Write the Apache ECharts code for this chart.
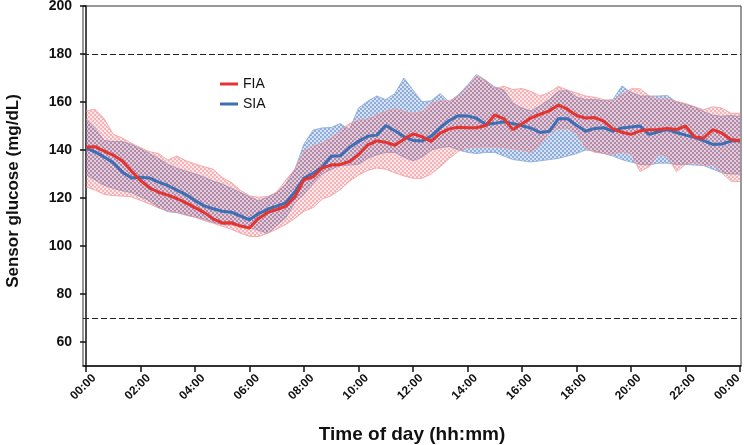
<!DOCTYPE html>
<html>
<head>
<meta charset="utf-8">
<script src="https://cdn.jsdelivr.net/npm/echarts@6/dist/echarts.min.js"></script>
<style>
html,body{margin:0;padding:0;background:#fff;}
#chart{width:744px;height:445px;}
</style>
</head>
<body>
<div id="chart"></div>
<script>
// Time of day in minutes (20-minute steps)
const minutes = [0,20,40,60,80,100,120,140,160,180,200,220,240,260,280,300,320,340,360,380,400,420,440,460,480,500,520,540,560,580,600,620,640,660,680,700,720,740,760,780,800,820,840,860,880,900,920,940,960,980,1000,1020,1040,1060,1080,1100,1120,1140,1160,1180,1200,1220,1240,1260,1280,1300,1320,1340,1360,1380,1400,1420,1440];
const xTickValues = [0,120,240,360,480,600,720,840,960,1080,1200,1320,1440];
const xTickLabels = ["00:00","02:00","04:00","06:00","08:00","10:00","12:00","14:00","16:00","18:00","20:00","22:00","00:00"];
const yTickValues = [60,80,100,120,140,160,180,200];
const refLines = [70,180];

const fiaMedian = [141.3,141.4,139.5,137.9,135.4,131.2,127.3,124.2,122.4,121.2,119.8,118,116,114,111.3,109.6,109.7,108.3,107.5,111.5,114,115.2,116.6,120.5,127.6,128.8,132.5,133.7,134,135.2,138,142,143.8,143.2,142,144.5,146.7,145.5,143.6,147,148.8,149.5,149.3,149.3,150.2,154.6,153,148.5,150.9,153.4,154.9,156.3,158.75,157,154.4,153.3,153.5,152,148.8,147.4,146.5,148,148.4,148.5,149,148.5,150,145.4,145,148.5,147,144.4,143.9];
const fiaUpper = [156.3,157,153,146.5,145,142.8,141,139.3,138.5,135.8,137.5,135.5,134.2,133,132,128.5,126.5,123.2,120.9,120.3,120.6,122.5,127.5,132,139.4,141.8,142.8,145,148,151,152.5,152.7,154.6,156,157.2,156,155.3,156,159.5,160.5,160.5,162.4,166.2,170.8,169,165.5,166.6,165.2,165.6,164.4,162.5,164,166.5,165,163.8,162.5,162,161,160.5,163,165.5,165.5,162.5,161,161.3,160.3,159.4,158,156.8,158,157.5,155.3,155.3];
const fiaLower = [124.7,123.3,121.5,121,120.8,120.5,119,117.5,115.8,114.8,114,112.8,112,110.6,109.5,108.2,107,105.3,104,103.9,105.3,107,109,111.5,114.5,116,119.5,121,123.5,127,129.5,131.5,132.5,132,130.5,129.2,128.2,128.2,130,133,136.5,139.5,141,141.3,141.3,141.3,141,140.5,140,139,142.5,147,149,149,147,141,139,138.6,138.3,139.3,138.5,131,133,138.3,137.5,131,134,135,133.5,134,130.5,127,126.8];

const siaMedian = [140.8,139.2,137.1,134.7,130.8,128.3,128.6,128.3,126.6,125.2,123.3,121.4,119,116.7,115.5,114.5,114.1,112.5,110.9,113.5,115.3,116.6,118,122.6,128.3,130.3,132.8,137.4,137.6,141,143.6,145.7,146.2,150.2,148,145.6,144,143.8,145.8,149.3,152.3,154.3,154.2,153.2,150.6,151.1,151.8,151,150.1,149.1,147.3,147.8,153,153,150.3,147.8,149,149.3,147.8,149.2,149.6,150,146.5,147.6,148.5,147.3,146.2,145.3,143.9,142.3,142.5,143.7,143.9];
const siaUpper = [152.8,149,144,143.5,143.5,142.3,140.5,138.5,136.5,134,132.4,131.2,130,128.7,127,125.8,124,122.3,120.5,118.8,120.3,122.2,125.8,132,142.5,148.3,149.2,149.4,151,148.5,157.5,160.3,162.5,161,163.5,170,165,160.1,160.5,163.5,160,163,167,171.5,169,166.3,165,159.5,157.5,156.2,158.5,161,164.5,164.8,162,161,161,160.5,161,166.7,164,162.5,162.5,162.5,162.7,160,159,158,156,154.5,154,154.4,153.9];
const siaLower = [129.8,127.5,125.3,124,123,122.3,120.5,118.8,116,114.3,113.9,113,112,111.2,109.8,109,108.8,108.4,107.8,106.5,105.3,108.5,111.8,118,121.5,126,130,132,133.5,133.7,134,136.5,138,139,139,137,135.5,137,140,141,141.5,140,139,138.5,139,139,137.5,136,135.5,135,135.5,136,136.5,137.5,138.5,140,139.5,138.5,137.5,136,135,134,133.8,134.5,134.5,134,134,133.7,133.5,132,130.5,130,130];

const RED = '#e53430';
const BLUE = '#3d6fb5';

function pattern(strong, weak) {
  const c = document.createElement('canvas');
  c.width = 4; c.height = 4;
  const g = c.getContext('2d');
  g.fillStyle = strong; g.fillRect(0,0,2,2); g.fillRect(2,2,2,2);
  g.fillStyle = weak; g.fillRect(2,0,2,2); g.fillRect(0,2,2,2);
  return {image: c, repeat: 'repeat'};
}
const redPat = pattern('rgba(236,92,100,0.47)', 'rgba(236,110,115,0.15)');
const bluePat = pattern('rgba(62,112,195,0.58)', 'rgba(95,145,210,0.26)');

const pairs = (arr) => minutes.map((m, i) => [m, arr[i]]);

const FONT = 'Liberation Sans, Arial, Helvetica, sans-serif';
const LBL = {fontFamily: FONT, fontSize: 12, fontWeight: 'bold', color: '#111'};

// Band drawn as one polygon through the axis scales (api.coord)
function bandSeries(name, upper, lower, fill, edge, z) {
  return {
    name: name, type: 'custom', silent: true, z: z, clip: true,
    data: [[0]],
    renderItem: function (params, api) {
      const up = minutes.map((m, i) => api.coord([m, upper[i]]));
      const lo = minutes.map((m, i) => api.coord([m, lower[i]])).reverse();
      return {
        type: 'group',
        children: [
          {type: 'polygon', shape: {points: up.concat(lo)}, style: {fill: fill, stroke: null}},
          {type: 'polyline', shape: {points: up}, style: {fill: null, stroke: edge, lineWidth: 0.8}},
          {type: 'polyline', shape: {points: lo}, style: {fill: null, stroke: edge, lineWidth: 0.8}}
        ]
      };
    }
  };
}

const option = {
  animation: false,
  backgroundColor: '#fff',
  grid: {left: 83, right: 3, top: 6, bottom: 79, containLabel: false, outerBoundsMode: 'none',
    show: true, borderColor: '#333', borderWidth: 1, backgroundColor: 'transparent'},
  legend: {
    data: ['FIA', 'SIA'],
    orient: 'vertical', left: 215, top: 72,
    icon: 'rect', itemWidth: 18, itemHeight: 3, itemGap: 6,
    textStyle: {fontFamily: FONT, fontSize: 14, color: '#111'}
  },
  xAxis: {
    type: 'value', min: -6.6, max: 1442.2,
    name: 'Time of day (hh:mm)', nameLocation: 'middle', nameGap: 59,
    nameTextStyle: {fontFamily: FONT, fontSize: 19, fontWeight: 'bold', color: '#111'},
    splitLine: {show: false},
    axisLine: {lineStyle: {color: '#111', width: 1.5}},
    axisTick: {customValues: xTickValues, length: 6, lineStyle: {color: '#111', width: 1.5}},
    axisLabel: Object.assign({customValues: xTickValues, rotate: 45, align: 'center', verticalAlign: 'middle', margin: 21,
      padding: [0, 4, 4, 0],
      rich: {e: Object.assign({padding: [0, 14, 14, 0]}, LBL)},
      formatter: (v) => {
        const i = xTickValues.indexOf(v);
        if (i < 0) return '';
        return i === xTickValues.length - 1 ? '{e|' + xTickLabels[i] + '}' : xTickLabels[i];
      }}, LBL)
  },
  yAxis: {
    type: 'value', min: 50, max: 200,
    name: 'Sensor glucose (mg/dL)', nameLocation: 'middle', nameGap: 61, nameRotate: 90,
    nameTextStyle: {fontFamily: FONT, fontSize: 17, fontWeight: 'bold', color: '#111', padding: [0, 10, 0, 0]},
    splitLine: {show: false},
    axisLine: {show: true, lineStyle: {color: '#111', width: 1.5}},
    axisTick: {show: true, customValues: yTickValues, length: 6, lineStyle: {color: '#111', width: 1.5}},
    axisLabel: {customValues: yTickValues, margin: 11, fontFamily: FONT, fontSize: 14, fontWeight: 'bold', color: '#111'}
  },
  series: [
    bandSeries('siaBand', siaUpper, siaLower, bluePat, '#86a8d8', 1),
    bandSeries('fiaBand', fiaUpper, fiaLower, redPat, '#f29a9a', 2),
    {name: 'SIA', type: 'line', data: pairs(siaMedian), symbol: 'none', color: BLUE, lineStyle: {width: 3, color: BLUE}, z: 3},
    {name: 'FIA', type: 'line', data: pairs(fiaMedian), symbol: 'none', color: RED, lineStyle: {width: 3, color: RED}, z: 4,
     markLine: {silent: true, symbol: 'none', label: {show: false}, lineStyle: {color: '#222', width: 1.2, type: [6, 3]},
       data: refLines.map(v => ({yAxis: v}))}}
  ]
};

const chart = echarts.init(document.getElementById('chart'), null, {renderer: 'canvas'});
chart.setOption(option);
</script>
</body>
</html>
